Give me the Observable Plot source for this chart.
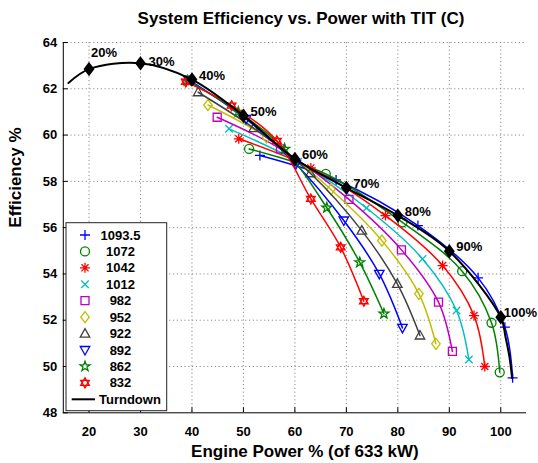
<!DOCTYPE html>
<html>
<head>
<meta charset="utf-8">
<script src="https://cdn.jsdelivr.net/npm/d3@7"></script>
<script src="https://cdn.jsdelivr.net/npm/@observablehq/plot@0.6"></script>
<style>
  body { margin: 0; background: #fff; font-family: "Liberation Sans", Arial, sans-serif; }
  #wrap { width: 538px; position: relative; }
  #title { height: 30px; position: relative; }
  #title span {
    position: absolute; left: 301px; top: 10px; transform: translateX(-50%);
    font-size: 17px; line-height: 17px; font-weight: bold; white-space: nowrap; color: #000;
  }
</style>
</head>
<body>
<div id="wrap">
  <div id="title"><span>System Efficiency vs. Power with TIT (C)</span></div>
  <div id="chart"></div>
</div>
<script>
// Turbine inlet temperatures (C) and their line colours
const titLabels = ["1093.5", "1072", "1042", "1012", "982", "952", "922", "892", "862", "832"];
const titColors = ["#0000ff", "#008000", "#ff0000", "#00bfbf", "#bf00bf", "#bfbf00", "#404040", "#0000ff", "#008000", "#ff0000"];

// Engine power (% of 633 kW) and system efficiency (%) for each TIT
const power1093 = [53.2, 68.0, 83.9, 95.6, 100.8, 102.3];
const eff1093   = [59.12, 58.06, 56.09, 53.83, 51.70, 49.51];
const power1072 = [51.1, 66.0, 80.9, 92.5, 98.2, 99.8];
const eff1072   = [59.40, 58.32, 56.23, 54.12, 51.89, 49.75];
const power1042 = [49.1, 63.1, 77.6, 88.7, 94.8, 96.9];
const eff1042   = [59.84, 58.58, 56.52, 54.36, 52.20, 50.00];
const power1012 = [47.2, 60.6, 73.9, 84.8, 91.4, 93.8];
const eff1012   = [60.27, 58.85, 56.85, 54.65, 52.42, 50.30];
const power982  = [44.9, 57.2, 70.5, 80.7, 87.9, 90.6];
const eff982    = [60.77, 59.40, 57.22, 55.04, 52.78, 50.65];
const power952  = [43.1, 54.5, 67.0, 76.9, 84.1, 87.4];
const eff952    = [61.30, 59.90, 57.65, 55.44, 53.14, 50.98];
const power922  = [41.2, 52.0, 63.0, 73.0, 79.9, 84.3];
const eff922    = [61.85, 60.30, 58.35, 55.87, 53.57, 51.34];
const power892  = [39.3, 50.5, 60.2, 69.5, 76.4, 80.9];
const eff892    = [62.40, 60.70, 58.75, 56.31, 54.00, 51.67];
const power862  = [39.1, 49.0, 58.0, 66.2, 72.6, 77.3];
const eff862    = [62.35, 61.00, 59.40, 56.86, 54.50, 52.28];
const power832  = [38.8, 47.7, 56.5, 63.1, 68.9, 73.4];
const eff832    = [62.30, 61.27, 59.75, 57.24, 55.15, 52.82];

// Turndown (best-efficiency) path with its percent-load points
const turndownPower  = [16, 20, 30, 40, 50, 60, 70, 80, 90, 100, 100.9, 101.7, 102.2];
const turndownEff    = [62.25, 62.85, 63.10, 62.40, 60.84, 58.97, 57.72, 56.52, 54.98, 52.13, 51.3, 50.4, 49.5];
const turndownLabels = ["", "20%", "30%", "40%", "50%", "60%", "70%", "80%", "90%", "100%", "", "", ""];

// Axis ticks
const xTicks = [20, 30, 40, 50, 60, 70, 80, 90, 100];
const yTicks = [48, 50, 52, 54, 56, 58, 60, 62, 64];

const powers = [power1093, power1072, power1042, power1012, power982, power952, power922, power892, power862, power832];
const effs   = [eff1093, eff1072, eff1042, eff1012, eff982, eff952, eff922, eff892, eff862, eff832];

// Open marker shapes (size is the area passed in by Plot.dot)
const rad = s => Math.sqrt(s / Math.PI);
const polygon = (c, pts) => { c.moveTo(pts[0][0], pts[0][1]); for (const p of pts.slice(1)) c.lineTo(p[0], p[1]); c.closePath(); };
const symbols = [
  { draw(c, s) { const r = rad(s); c.moveTo(-r, 0); c.lineTo(r, 0); c.moveTo(0, -r); c.lineTo(0, r); } },
  { draw(c, s) { const r = rad(s) * 0.9; c.moveTo(r, 0); c.arc(0, 0, r, 0, 2 * Math.PI); } },
  { draw(c, s) { const r = rad(s); const d = r * 0.71; c.moveTo(-r, 0); c.lineTo(r, 0); c.moveTo(0, -r); c.lineTo(0, r); c.moveTo(-d, -d); c.lineTo(d, d); c.moveTo(-d, d); c.lineTo(d, -d); } },
  { draw(c, s) { const d = rad(s) * 0.75; c.moveTo(-d, -d); c.lineTo(d, d); c.moveTo(-d, d); c.lineTo(d, -d); } },
  { draw(c, s) { const h = rad(s) * 0.8; polygon(c, [[-h, -h], [h, -h], [h, h], [-h, h]]); } },
  { draw(c, s) { const r = rad(s); polygon(c, [[0, -r * 1.1], [r * 0.85, 0], [0, r * 1.1], [-r * 0.85, 0]]); } },
  { draw(c, s) { const r = rad(s); polygon(c, [[0, -r], [r * 0.95, r * 0.7], [-r * 0.95, r * 0.7]]); } },
  { draw(c, s) { const r = rad(s); polygon(c, [[0, r], [r * 0.95, -r * 0.7], [-r * 0.95, -r * 0.7]]); } },
  { draw(c, s) { const r = rad(s) * 1.05, ri = r * 0.4, pts = [];
      for (let i = 0; i < 10; i++) { const a = -Math.PI / 2 + i * Math.PI / 5, q = i % 2 ? ri : r; pts.push([q * Math.cos(a), q * Math.sin(a)]); }
      polygon(c, pts); } },
  { draw(c, s) { const r = rad(s); const tri = a0 => [0, 1, 2].map(i => { const a = a0 + i * 2 * Math.PI / 3; return [r * Math.cos(a), r * Math.sin(a)]; });
      polygon(c, tri(-Math.PI / 2)); polygon(c, tri(Math.PI / 2)); } }
];
const diamondFilled = { draw(c, s) { const r = rad(s); polygon(c, [[0, -r * 1.2], [r * 0.9, 0], [0, r * 1.2], [-r * 0.9, 0]]); } };

const seriesRows = titLabels.map((tit, i) => powers[i].map((p, j) => ({ tit, power: p, eff: effs[i][j] })));
const turndownRows = turndownPower.map((p, j) => ({ power: p, eff: turndownEff[j], label: turndownLabels[j] }));
const labelled = turndownRows.filter(d => d.label);

const bold = { fontSize: 13, fontWeight: "bold" };
const seriesMarks = seriesRows.flatMap((rows, i) => [
  Plot.line(rows, { x: "power", y: "eff", stroke: titColors[i], strokeWidth: 1.5, curve: "catmull-rom" }),
  Plot.dot(rows, { x: "power", y: "eff", stroke: titColors[i], fill: "none", strokeWidth: 1.3, r: 5, symbol: symbols[i] })
]);

const plot = Plot.plot({
  width: 538,
  height: 433,
  marginTop: 12,
  marginBottom: 50.7,
  marginLeft: 62.8,
  marginRight: 12,
  style: { fontFamily: "'Liberation Sans', Arial, sans-serif", background: "white", color: "black", overflow: "visible" },
  x: { domain: [15, 105] },
  y: { domain: [48, 64] },
  marks: [
    Plot.gridX(xTicks, { stroke: "#8c8c8c", strokeOpacity: 1, strokeDasharray: "1.2,2.6" }),
    Plot.gridY(yTicks.filter(v => v > 48), { stroke: "#8c8c8c", strokeOpacity: 1, strokeDasharray: "1.2,2.6" }),
    Plot.axisX(xTicks, { tickSize: -5, tickPadding: 19, label: null, ...bold }),
    Plot.axisY(yTicks, { tickSize: -5, tickPadding: 11, label: null, ...bold }),
    Plot.ruleX([15], { stroke: "black" }),
    Plot.ruleY([48], { stroke: "black" }),
    ...seriesMarks,
    Plot.line(turndownRows, { x: "power", y: "eff", stroke: "black", strokeWidth: 2, curve: "catmull-rom" }),
    Plot.dot(labelled, { x: "power", y: "eff", fill: "black", stroke: "black", r: 5, symbol: diamondFilled }),
    Plot.text(labelled.filter(d => d.label === "20%"), { x: "power", y: "eff", text: "label", textAnchor: "start", dx: 2, dy: -16, ...bold }),
    Plot.text(labelled.filter(d => d.label === "30%"), { x: "power", y: "eff", text: "label", textAnchor: "start", dx: 8, dy: -2, ...bold }),
    Plot.text(labelled.filter(d => d.label === "100%"), { x: "power", y: "eff", text: "label", textAnchor: "start", dx: 3, dy: -4, ...bold }),
    Plot.text(labelled.filter(d => !["20%", "30%", "100%"].includes(d.label)), { x: "power", y: "eff", text: "label", textAnchor: "start", dx: 7, dy: -4, ...bold }),
    Plot.text(["Engine Power % (of 633 kW)"], { frameAnchor: "bottom", dx: 10, dy: 44, fontSize: 17, fontWeight: "bold" }),
    Plot.text(["Efficiency %"], { frameAnchor: "left", rotate: -90, dx: -47.8, fontSize: 17, fontWeight: "bold" })
  ]
});
document.getElementById("chart").appendChild(plot);

// Legend box in the lower-left corner of the axes
const svg = d3.select(plot);
const lg = svg.append("g").attr("font-family", "'Liberation Sans', Arial, sans-serif").attr("font-size", 13).attr("font-weight", "bold");
lg.append("rect").attr("x", 66).attr("y", 192.7).attr("width", 100.7).attr("height", 188)
  .attr("fill", "white").attr("stroke", "#222").attr("stroke-width", 1);
const rowY = i => 205 + i * 16.43;
titLabels.forEach((tit, i) => {
  const p = d3.path();
  symbols[i].draw(p, 25 * Math.PI);
  lg.append("path").attr("d", p.toString()).attr("transform", `translate(85,${rowY(i)})`)
    .attr("fill", "none").attr("stroke", titColors[i]).attr("stroke-width", 1.3);
  lg.append("text").attr("x", 120.5).attr("y", rowY(i)).attr("dy", "0.35em").attr("text-anchor", "middle").attr("fill", "black").text(tit);
});
lg.append("line").attr("x1", 71.7).attr("x2", 95).attr("y1", rowY(10)).attr("y2", rowY(10)).attr("stroke", "black").attr("stroke-width", 2);
lg.append("text").attr("x", 99).attr("y", rowY(10)).attr("dy", "0.35em").attr("text-anchor", "start").attr("fill", "black").text("Turndown");
</script>
</body>
</html>
